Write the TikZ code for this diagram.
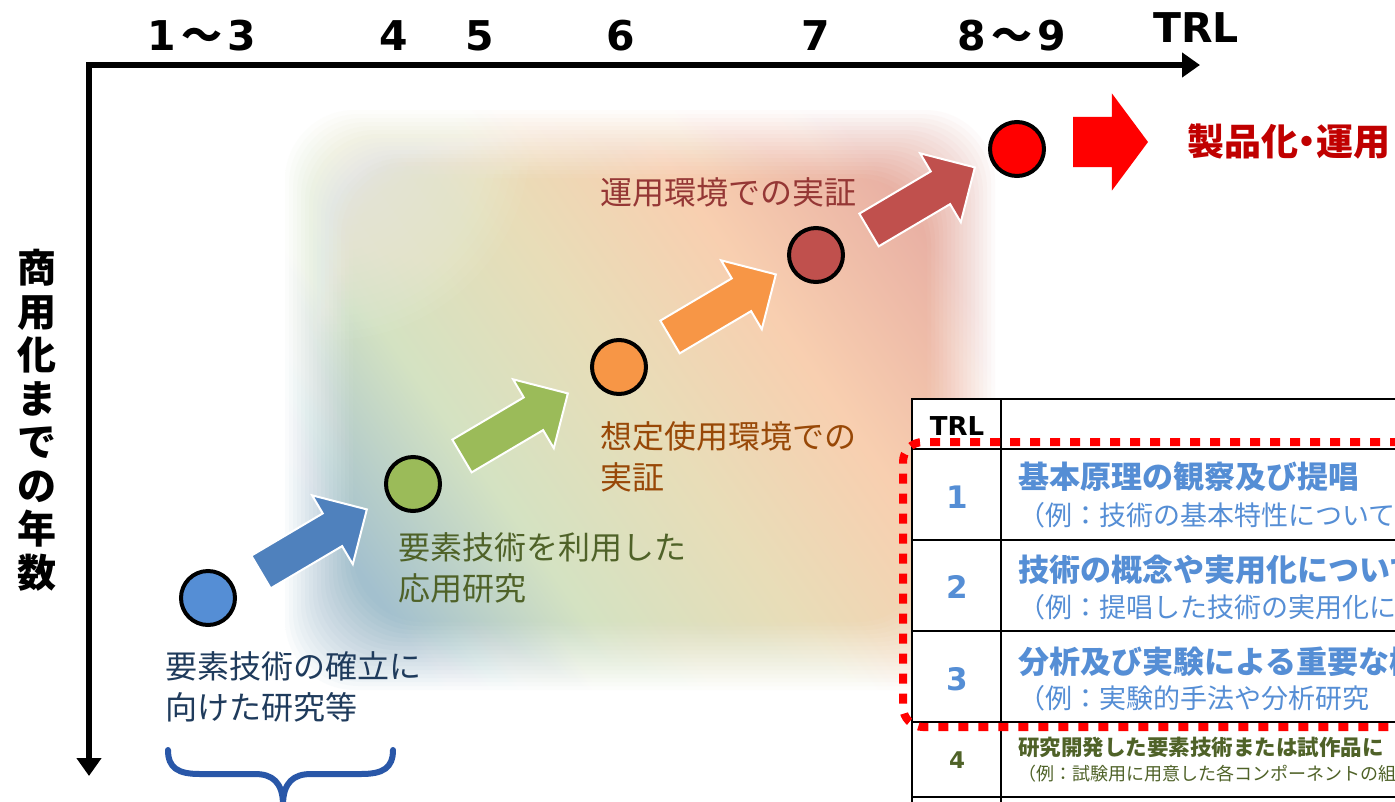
\documentclass[tikz,border=0pt]{standalone}
\usepackage{fontspec}
\usetikzlibrary{shapes.arrows,arrows.meta}
\setmainfont{Noto Sans CJK JP}
\newfontfamily\jp{Noto Sans CJK JP}
\newfontfamily\jpp{Noto Sans CJK JP}[RawFeature=+palt]
\newfontfamily\dv{DejaVu Sans}
\definecolor{cblue}{HTML}{558ED5}
\definecolor{ablue}{HTML}{4F81BD}
\definecolor{cgreen}{HTML}{9BBB59}
\definecolor{corange}{HTML}{F79646}
\definecolor{cbrown}{HTML}{C0504D}
\definecolor{cred}{HTML}{FF0000}
\definecolor{darkred}{HTML}{C00000}
\definecolor{navy}{HTML}{1F3B5C}
\definecolor{olive}{HTML}{4F6228}
\definecolor{rust}{HTML}{984807}
\definecolor{wine}{HTML}{953735}
\definecolor{tblue}{HTML}{558ED5}
\definecolor{bracecol}{HTML}{2957A8}
\definecolor{bgA}{HTML}{A3C0CE}
\definecolor{bgB}{HTML}{D4E2C2}
\definecolor{bgC}{HTML}{E8DDB8}
\definecolor{bgD}{HTML}{F8CFB0}
\definecolor{bgE}{HTML}{E9B1A4}
\pgfdeclarehorizontalshading{bgsh}{100bp}{color(0bp)=(bgA); color(25bp)=(bgA); color(37bp)=(bgB); color(50bp)=(bgC); color(62bp)=(bgD); color(75bp)=(bgE); color(100bp)=(bgE)}
\begin{document}
\begin{tikzpicture}[x=1pt,y=-1pt,
  dot/.style={circle, draw=black, line width=4pt, minimum size=54pt, inner sep=0pt, outer sep=0pt},
  blockarrow/.style={single arrow, draw=white, line width=2pt, minimum height=123pt, inner xsep=0pt, inner ysep=18pt, single arrow head extend=21pt, single arrow tip angle=90, rotate=30.6, outer sep=0pt, anchor=tail},
  lbl/.style={font=\jp\fontsize{32}{41}\selectfont, inner sep=0pt, align=left, anchor=west},
  toplbl/.style={font=\dv\bfseries\fontsize{41}{41}\selectfont, anchor=base, inner sep=0pt},
  trlnum/.style={font=\dv\bfseries\fontsize{31}{31}\selectfont, text=tblue, inner sep=0pt},
  ttitle/.style={font=\jp\bfseries\fontsize{31}{31}\selectfont, anchor=west, inner sep=0pt, text=tblue},
  tsub/.style={font=\jp\fontsize{27}{27}\selectfont, anchor=west, inner sep=0pt, text=tblue},
  tline/.style={line width=2pt, black},
  reddot/.style={cred, line width=8pt, dash pattern=on 10pt off 10pt},
  axisline/.style={line width=6pt, black}
]
\clip (0,0) rectangle (1395,801);
\fill[white] (0,0) rectangle (1395,801);

% soft background (linear fade at the edges)
\foreach \i in {0,...,17} {
  \pgfmathsetmacro\op{1/(18-\i)}
  \begin{scope}
    \clip[rounded corners=70pt] ({285+\i*4},{110+\i*4}) rectangle ({995-\i*4},{690-\i*4});
    \shade[shading=bgsh, shading angle=35, opacity=\op] (285,110) rectangle (995,690);
  \end{scope}
}
% lighter upper-left part of the background
\foreach \i in {0,...,23} {
  \fill[white, opacity=0.035] (330,140) circle ({200-\i*8});
}

% axes
\coordinate (O) at (89,65);
\coordinate (xe) at (1200,65);
\coordinate (ye) at (89,776);
\draw[axisline, {Triangle[length=18pt,width=24pt]}-{Triangle[length=18pt,width=24pt]}] (ye) -- (O) -- (xe);

% top labels
\node[toplbl] (l13) at (202,50) {1\kern5pt{\jp ～}\kern5pt3};
\node[toplbl] (l4) at (394,50) {4};
\node[toplbl] (l5) at (480,50) {5};
\node[toplbl] (l6) at (621,50) {6};
\node[toplbl] (l7) at (816,50) {7};
\node[toplbl] (l89) at (1012,50) {8\kern5pt{\jp ～}\kern5pt9};
\node[toplbl] (ltrl) at (1196,42) {TRL};

% vertical label
\node[font=\jp\bfseries\fontsize{39}{43.5}\selectfont, align=center, inner sep=0pt] (ylab) at (37,420)
  {商\\用\\化\\ま\\で\\の\\年\\数};

% circles
\node[dot, fill=cblue] (c1) at (208,598) {};
\node[dot, fill=cgreen] (c2) at (413,484) {};
\node[dot, fill=corange] (c3) at (619,367) {};
\node[dot, fill=cbrown] (c4) at (816,255) {};
\node[dot, fill=cred] (c5) at (1017,149) {};

% block arrows
\node[blockarrow, fill=ablue] (a1) at (261,572) {};
\node[blockarrow, fill=cgreen] (a2) at (462,456) {};
\node[blockarrow, fill=corange] (a3) at (670,337) {};
\node[blockarrow, fill=cbrown] (a4) at (869,230) {};

% big red arrow
\node[single arrow, fill=cred, minimum height=75pt, inner xsep=0pt, inner ysep=25pt,
  single arrow head extend=23.5pt, single arrow tip angle=106.8, outer sep=0pt, anchor=tail] (a5) at (1073,142) {};
\node[font=\jpp\bfseries\fontsize{37}{37}\selectfont, text=darkred, anchor=west, inner sep=0pt] (prod) at (1187,142) {製品化・運用};

% stage labels
\node[lbl, text=navy] (s1) at (165,687) {要素技術の確立に\\向けた研究等};
\node[lbl, text=olive] (s2) at (398,568) {要素技術を利用した\\応用研究};
\node[lbl, text=rust] (s3) at (600,457) {想定使用環境での\\実証};
\node[lbl, text=wine] (s4) at (600,192) {運用環境での実証};

% brace
\draw[bracecol, line width=6pt, line cap=round]
  (168,750) .. controls (168,768) and (178,774) .. (200,774) -- (255,774)
  .. controls (272,774) and (283,782) .. (283,805);
\draw[bracecol, line width=6pt, line cap=round]
  (393,750) .. controls (393,768) and (383,774) .. (361,774) -- (311,774)
  .. controls (294,774) and (283,782) .. (283,805);

% table
\fill[white] (912,399) rectangle (1400,805);
\draw[tline] (912,805) -- (912,399) -- (1400,399);
\draw[tline] (1001,399) -- (1001,805);
\foreach \yy in {449,540,631,722,797} {\draw[tline] (912,\yy) -- (1400,\yy);}

\node[font=\dv\bfseries\fontsize{26}{26}\selectfont, inner sep=0pt] (hdr) at (957,426) {TRL};
\node[trlnum] (n1) at (957,497) {1};
\node[trlnum] (n2) at (957,587) {2};
\node[trlnum] (n3) at (957,679) {3};
\node[font=\dv\bfseries\fontsize{23}{23}\selectfont, text=olive, inner sep=0pt] (n4) at (957,760) {4};

\node[ttitle] (t1) at (1018,477) {基本原理の観察及び提唱};
\node[tsub] (u1) at (1018,515) {（例：技術の基本特性について};
\node[ttitle] (t2) at (1018,570) {技術の概念や実用化について};
\node[tsub] (u2) at (1018,607) {（例：提唱した技術の実用化に};
\node[ttitle] (t3) at (1018,662) {分析及び実験による重要な機};
\node[tsub] (u3) at (1018,698) {（例：実験的手法や分析研究};
\node[font=\jp\bfseries\fontsize{21.5}{21.5}\selectfont, text=olive, anchor=west, inner sep=0pt] (t4) at (1018,747) {研究開発した要素技術または試作品に};
\node[font=\jp\fontsize{18}{18}\selectfont, text=olive, anchor=west, inner sep=0pt] (u4) at (1018,774) {（例：試験用に用意した各コンポーネントの組};

% red dotted frame
\draw[reddot, rounded corners=20pt] (1420,442) -- (903,442) -- (903,727) -- (1420,727);
\end{tikzpicture}
\end{document}
